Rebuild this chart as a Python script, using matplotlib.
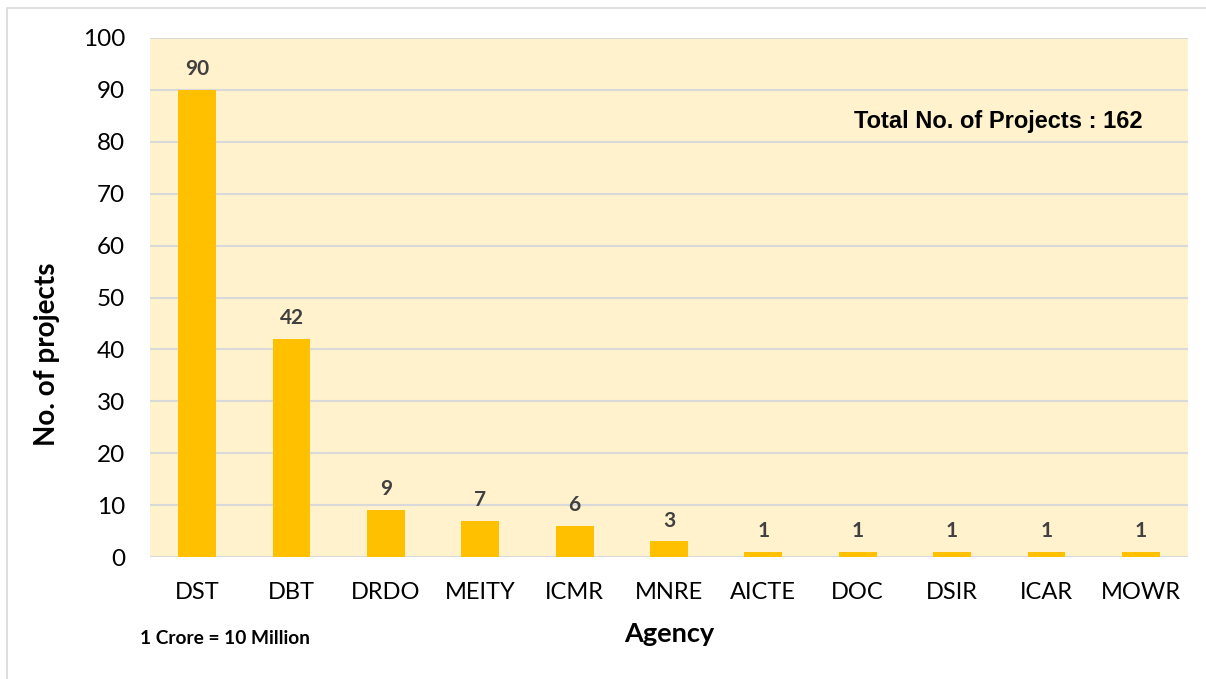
import matplotlib.pyplot as plt
from matplotlib.patches import Rectangle

agencies = ["DST", "DBT", "DRDO", "MEITY", "ICMR", "MNRE", "AICTE", "DOC", "DSIR", "ICAR", "MOWR"]
projects = [90, 42, 9, 7, 6, 3, 1, 1, 1, 1, 1]
yticks = [0, 10, 20, 30, 40, 50, 60, 70, 80, 90, 100]

font = ["Lato", "DejaVu Sans"]

fig = plt.figure(figsize=(12.06, 6.79), dpi=100)
# outer chart border (runs off the right and bottom edges)
fig.patches.append(Rectangle((7 / 1206, -10 / 679), 1220 / 1206, 681 / 679, transform=fig.transFigure,
                             fill=False, edgecolor="#d9d9d9", linewidth=1.2))

ax = fig.add_axes([150 / 1206, 1 - 557 / 679, 1038 / 1206, 519 / 679])
ax.set_facecolor("#fff2cc")
x = range(len(agencies))
ax.bar(x, projects, width=0.4, color="#ffc000", zorder=3)
ax.set_xlim(-0.5, len(agencies) - 0.5)
ax.set_ylim(0, 100)
ax.set_yticks(yticks)
ax.yaxis.grid(True, color="#d9d9d9", linewidth=1.5, zorder=0)
ax.set_axisbelow(True)
for s in ax.spines.values():
    s.set_visible(False)
ax.tick_params(length=0)
ax.tick_params(axis="y", pad=18)
ax.tick_params(axis="x", pad=18)
ax.set_xticks(list(x))
ax.set_xticklabels(agencies, fontsize=17, family=font)
for lab in ax.get_yticklabels():
    lab.set_fontsize(17.5)
    lab.set_family(font)

for i, v in enumerate(projects):
    ax.annotate(str(v), (i, v), xytext=(0, 15), textcoords="offset points", ha="center", va="center",
                fontsize=15, fontweight="bold", color="#404040", family=font)

ax.set_ylabel("No. of projects", fontsize=20, fontweight="bold", family=font)
ax.yaxis.set_label_coords(-0.087, 0.39)
ax.set_xlabel("Agency", fontsize=19.5, fontweight="bold", family=font, labelpad=14)

ax.text(0.956, 0.84, "Total No. of Projects : 162", transform=ax.transAxes, ha="right", va="center",
        fontsize=17, fontweight="bold", family="Liberation Sans")
fig.text(140 / 1206, 1 - 638 / 679, "1 Crore = 10 Million", ha="left", va="center",
         fontsize=13.8, fontweight="bold", family=font)

plt.savefig("out.png", dpi=100)
